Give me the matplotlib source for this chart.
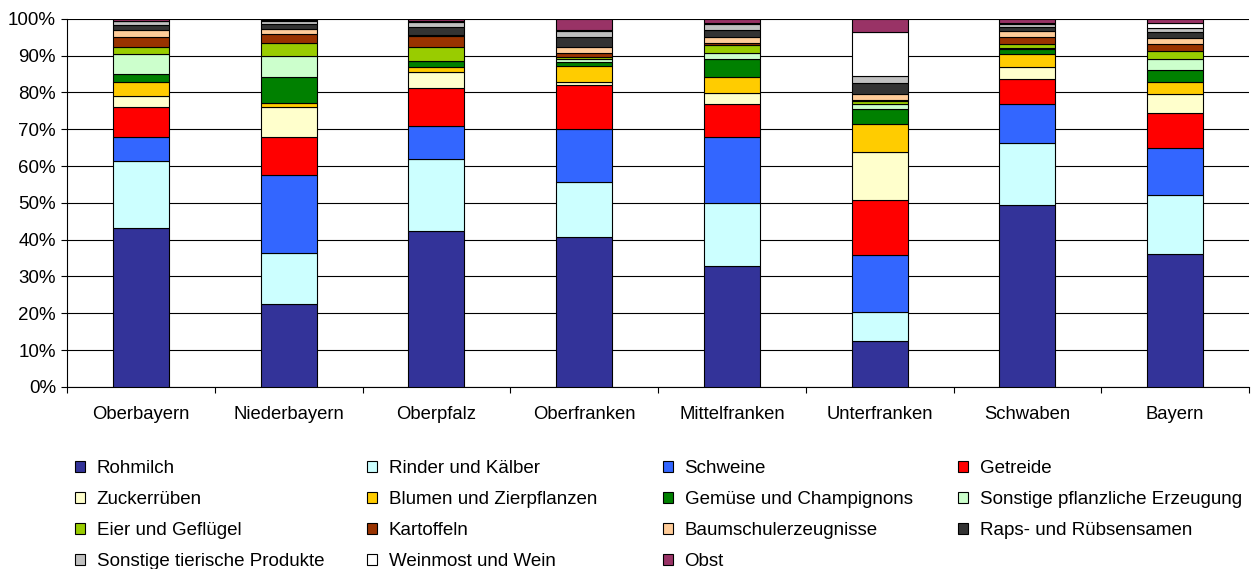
import numpy as np
import matplotlib.pyplot as plt
from matplotlib.ticker import PercentFormatter, FixedLocator

plt.rcParams['font.family'] = ['Liberation Sans', 'DejaVu Sans']

regionen = ["Oberbayern", "Niederbayern", "Oberpfalz", "Oberfranken",
            "Mittelfranken", "Unterfranken", "Schwaben", "Bayern"]

# Anteile in % je Produkt (Reihenfolge wie Regionen)
rohmilch     = [43.2, 22.4, 42.4, 40.7, 32.8, 12.5, 49.5, 36.1]
rinder       = [18.3, 14.1, 19.4, 15.0, 17.1,  7.9, 16.7, 15.9]
schweine     = [ 6.3, 21.2,  9.1, 14.3, 18.1, 15.4, 10.6, 13.0]
getreide     = [ 8.3, 10.1, 10.2, 12.0,  8.8, 15.0,  6.8,  9.4]
zuckerrueben = [ 2.8,  8.1,  4.4,  0.9,  3.1, 12.9,  3.4,  5.1]
blumen       = [ 3.8,  1.3,  1.5,  4.3,  4.4,  7.6,  3.3,  3.2]
gemuese      = [ 2.2,  6.9,  1.4,  1.1,  4.7,  4.3,  1.4,  3.3]
sonst_pfl    = [ 5.4,  5.7,  0.2,  0.7,  1.6,  1.3,  0.3,  3.0]
eier         = [ 2.0,  3.7,  3.6,  0.6,  2.3,  0.8,  1.2,  2.2]
kartoffeln   = [ 2.8,  2.4,  3.0,  1.0,  0.6,  0.3,  1.8,  2.0]
baumschul    = [ 1.9,  1.4,  0.5,  1.7,  1.5,  1.7,  1.7,  1.5]
raps         = [ 1.3,  1.2,  2.1,  2.7,  1.9,  2.9,  1.0,  1.6]
sonst_tier   = [ 1.1,  0.9,  1.4,  1.7,  1.6,  1.9,  0.9,  1.3]
weinmost     = [ 0.1,  0.2,  0.3,  0.2,  0.3, 12.0,  0.2,  1.2]
obst         = [ 0.5,  0.4,  0.5,  3.1,  1.2,  3.5,  1.2,  1.2]

namen = ["Rohmilch", "Rinder und Kälber", "Schweine", "Getreide",
         "Zuckerrüben", "Blumen und Zierpflanzen", "Gemüse und Champignons",
         "Sonstige pflanzliche Erzeugung", "Eier und Geflügel", "Kartoffeln",
         "Baumschulerzeugnisse", "Raps- und Rübsensamen",
         "Sonstige tierische Produkte", "Weinmost und Wein", "Obst"]
reihen = [rohmilch, rinder, schweine, getreide, zuckerrueben, blumen, gemuese,
          sonst_pfl, eier, kartoffeln, baumschul, raps, sonst_tier, weinmost, obst]
farben = ["#333399", "#CCFFFF", "#3366FF", "#FF0000", "#FFFFCC", "#FFCC00",
          "#008000", "#CCFFCC", "#99CC00", "#993300", "#FFCC99", "#333333",
          "#C0C0C0", "#FFFFFF", "#993366"]

fig = plt.figure(figsize=(12.51, 5.69), dpi=100)
ax = fig.add_axes([0.0536, 0.320, 0.9448, 0.647])

x = np.arange(len(regionen))
unten = np.zeros(len(regionen))
handles = []
for werte, name, farbe in zip(reihen, namen, farben):
    werte = np.array(werte, dtype=float)
    b = ax.bar(x, werte, 0.38, bottom=unten, color=farbe, edgecolor='black',
               linewidth=0.8, label=name, zorder=3)
    handles.append(b)
    unten += werte

ax.set_xlim(-0.5, 7.5)
ax.set_ylim(0, 100)
ax.set_yticks(np.arange(0, 101, 10))
ax.yaxis.set_major_formatter(PercentFormatter(decimals=0))
ax.grid(True, axis='y', color='black', linewidth=0.8, zorder=0)

ax.set_xticks(x)
ax.set_xticklabels(regionen)
ax.xaxis.set_minor_locator(FixedLocator(np.arange(-0.5, 8.0, 1.0)))
ax.tick_params(axis='x', which='major', length=0, pad=13.5, labelsize=13.3)
ax.tick_params(axis='x', which='minor', length=4, direction='out', width=0.8)
ax.tick_params(axis='y', length=4, direction='out', width=0.8, pad=4,
               labelsize=13.5)

for s in ['top', 'right']:
    ax.spines[s].set_visible(False)
for s in ['left', 'bottom']:
    ax.spines[s].set_linewidth(0.8)

spalten_x = [0.0600, 0.2934, 0.5300, 0.7658]
for c in range(4):
    idx = [i for i in range(c, 15, 4)]
    fig.legend([handles[i] for i in idx], [namen[i] for i in idx],
               loc='upper left', bbox_to_anchor=(spalten_x[c], 0.191),
               frameon=False, fontsize=13.5, handlelength=0.55,
               handleheight=0.55, handletextpad=0.6, labelspacing=0.74,
               borderpad=0, borderaxespad=0)

fig.savefig("out.png", dpi=100)
